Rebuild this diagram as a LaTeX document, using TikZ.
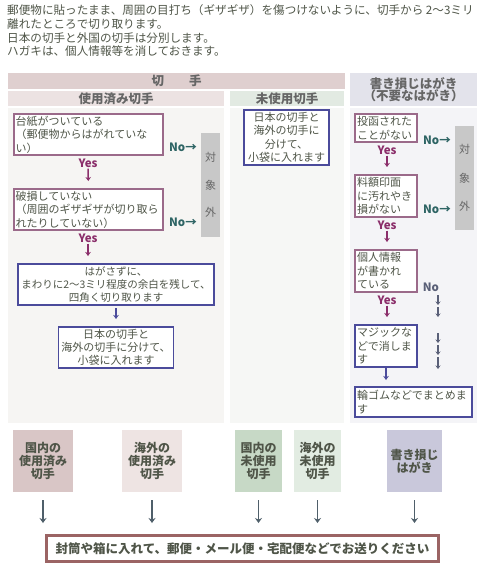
\documentclass[tikz,border=0pt]{standalone}
\usepackage{fontspec}
\setmainfont{Noto Sans CJK JP}
\usetikzlibrary{arrows.meta}
\definecolor{txt}{HTML}{4F5548}
\definecolor{hdtxt}{HTML}{666666}
\definecolor{hdTop}{HTML}{DFCFCF}
\definecolor{hdUsed}{HTML}{ECE2E2}
\definecolor{pnUsed}{HTML}{F6F5F3}
\definecolor{hdUnused}{HTML}{E2EAE2}
\definecolor{pnUnused}{HTML}{F6F7F5}
\definecolor{hdHaga}{HTML}{E3E3EB}
\definecolor{pnHaga}{HTML}{F4F4F7}
\definecolor{purp}{HTML}{9B6A8A}
\definecolor{blu}{HTML}{4B4B9B}
\definecolor{yescol}{HTML}{8B2F6B}
\definecolor{nocol}{HTML}{2E6464}
\definecolor{no2col}{HTML}{5A6078}
\definecolor{grayb}{HTML}{C8C8C8}
\definecolor{finb}{HTML}{9B6464}
\definecolor{bArrow}{HTML}{4F5F6A}
\definecolor{b1}{HTML}{D9C6C6}
\definecolor{b2}{HTML}{EEE4E3}
\definecolor{b3}{HTML}{C7D9C6}
\definecolor{b4}{HTML}{E2ECE2}
\definecolor{b5}{HTML}{C9C8DB}
\newcommand{\bodyf}{\fontsize{11}{13.5}\selectfont}
\tikzset{
  hdr/.style={inner sep=0pt, font=\fontsize{12.5}{12}\selectfont\bfseries, text=hdtxt, align=center},
  pbox/.style={draw=purp, line width=1.8pt, fill=white, inner xsep=2pt, inner ysep=1pt, align=left, font=\bodyf, text=txt},
  bbox/.style={draw=blu, line width=1.8pt, fill=white, inner xsep=2pt, inner ysep=1pt, align=center, font=\bodyf, text=txt},
  yeslbl/.style={font=\fontsize{11.5}{12}\selectfont\bfseries, text=yescol, inner sep=1pt},
  nolbl/.style={font=\fontsize{11.5}{12}\selectfont\bfseries, text=nocol, inner sep=0pt},
  grayside/.style={fill=grayb, inner sep=0pt, align=center, text=hdtxt},
  yarr/.style={draw=yescol, line width=1.5pt, -{Stealth[length=4pt,width=5.5pt]}},
  barr/.style={draw=blu, line width=1.5pt, -{Stealth[length=4pt,width=5.5pt]}},
  narr/.style={draw=no2col, line width=1.2pt, -{Stealth[length=3.5pt,width=5pt]}},
  cat/.style={inner sep=0pt, font=\fontsize{12}{13}\selectfont\bfseries, text=txt, align=center, minimum height=62pt},
  downarr/.style={draw=bArrow, line width=1.8pt, -{Stealth[length=5pt,width=7pt]}}
}
\begin{document}
\begin{tikzpicture}[x=1pt,y=-1pt]
\useasboundingbox (0,0) rectangle (480,570);
\fill[white] (0,0) rectangle (480,570);

% intro text
\node[anchor=north west, inner sep=0pt, align=left, text=txt, font=\fontsize{11.6}{13.7}\selectfont] (intro) at (7,4.5)
 {郵便物に貼ったまま、周囲の目打ち（ギザギザ）を傷つけないように、切手から 2～3ミリ\\
  離れたところで切り取ります。\\
  日本の切手と外国の切手は分別します。\\
  ハガキは、個人情報等を消しておきます。};

% panels
\fill[pnUsed] (8,108) rectangle (224,423);
\fill[pnUnused] (230,108) rectangle (344,423);
\fill[pnHaga] (350,108) rectangle (477,423);

% headers
\node[hdr, fill=hdTop, minimum width=337pt, minimum height=16pt] (hkitte) at (176.5,81) {切　　手};
\node[hdr, fill=hdUsed, minimum width=216pt, minimum height=15pt] (hused) at (116,98.5) {使用済み切手};
\node[hdr, fill=hdUnused, minimum width=114pt, minimum height=15pt] (hunused) at (287,98.5) {未使用切手};
\node[hdr, fill=hdHaga, minimum width=127pt, minimum height=33pt, font=\fontsize{12.5}{12.5}\selectfont\bfseries] (hhaga) at (413.5,89.5) {書き損じはがき\\（不要なはがき）};

% left column
\node[pbox, text width=145.5pt, minimum height=41.2pt] (lb1) at (88.5,134.5)
 {台紙がついている\\（郵便物からはがれていな\\い）};
\node[yeslbl] (ly1) at (88,163) {Yes};
\node[pbox, text width=145.5pt, minimum height=41.2pt] (lb2) at (88.5,209.5)
 {破損していない\\（周囲のギザギザが切り取ら\\れたりしていない）};
\node[yeslbl] (ly2) at (88,238) {Yes};
\node[bbox, text width=192pt, minimum height=41.2pt, font=\fontsize{10.5}{13}\selectfont] (lb3) at (116,284.5)
 {はがさずに、\\まわりに2～3ミリ程度の余白を残して、\\四角く切り取ります};
\node[bbox, text width=111pt, minimum height=41.2pt, font=\fontsize{11}{13}\selectfont] (lb4) at (116,347.5)
 {日本の切手と\\海外の切手に分けて、\\小袋に入れます};
\node[nolbl] (ln1) at (183,147) {No→};
\node[nolbl] (ln2) at (183,222) {No→};
\node[grayside, minimum width=19pt, minimum height=104pt, font=\fontsize{11}{27.5}\selectfont] (lgray) at (210.5,185) {対\\象\\外};

\draw[yarr, shorten >=7pt] (ly1.south) -- (lb2.north);
\draw[yarr, shorten >=7pt] (ly2.south) -- (ly2.south |- lb3.north);
\draw[barr, shorten <=2pt, shorten >=7pt] (lb3.south) -- (lb3.south |- lb4.north);

% middle column
\node[bbox, text width=81pt, minimum height=55.2pt, font=\fontsize{11}{13.5}\selectfont] (mb) at (286.5,137.5)
 {日本の切手と\\海外の切手に\\分けて、\\小袋に入れます};

% right column
\node[pbox, text width=58pt, minimum height=28.2pt] (ra) at (386,128) {投函された\\ことがない};
\node[yeslbl] (ry1) at (387,150) {Yes};
\node[pbox, text width=58pt, minimum height=42.2pt] (rb) at (386,196) {料額印面\\に汚れやき\\損がない};
\node[yeslbl] (ry2) at (387,225) {Yes};
\node[pbox, text width=58pt, minimum height=42.2pt] (rc) at (386,271) {個人情報\\が書かれ\\ている};
\node[yeslbl] (ry3) at (387,300) {Yes};
\node[bbox, align=left, text width=58pt, minimum height=42.2pt] (rd) at (386,346) {マジックな\\どで消しま\\す};
\node[bbox, align=left, text width=113pt, minimum height=30.2pt] (re) at (413.5,402) {輪ゴムなどでまとめま\\す};
\node[nolbl] (rn1) at (437,140) {No→};
\node[nolbl] (rn2) at (437,209) {No→};
\node[grayside, minimum width=19pt, minimum height=104pt, font=\fontsize{11}{28.5}\selectfont] (rgray) at (464.5,178) {対\\象\\外};
\node[nolbl, text=no2col] (rn3) at (431,287) {No};

\draw[yarr, shorten >=7pt] (ry1.south) -- (ry1.south |- rb.north);
\draw[yarr, shorten >=7pt] (ry2.south) -- (ry2.south |- rc.north);
\draw[yarr, shorten >=7pt] (ry3.south) -- (ry3.south |- rd.north);
\draw[barr, shorten >=6pt] (rd.south) -- (rd.south |- re.north);

\foreach \i/\a/\b in {1/295/305,2/307/317,3/333/343,4/345/355,5/357/369}{
  \coordinate (ns\i) at (438,\a);
  \coordinate (ne\i) at (438,\b);
  \draw[narr] (ns\i) -- (ne\i);
}

% bottom categories
\node[cat, fill=b1, minimum width=60pt] (c1) at (43,461) {国内の\\使用済み\\切手};
\node[cat, fill=b2, minimum width=60pt] (c2) at (152,461) {海外の\\使用済み\\切手};
\node[cat, fill=b3, minimum width=47pt] (c3) at (258.5,461) {国内の\\未使用\\切手};
\node[cat, fill=b4, minimum width=47pt] (c4) at (317.5,461) {海外の\\未使用\\切手};
\node[cat, fill=b5, minimum width=55pt] (c5) at (414.5,461) {書き損じ\\はがき};

\node[draw=finb, line width=3pt, fill=white, minimum width=392pt, minimum height=26pt, inner sep=0pt,
      font=\fontsize{12.5}{13}\selectfont\bfseries, text=txt] (fin) at (242.5,548.5)
 {封筒や箱に入れて、郵便・メール便・宅配便などでお送りください};

\foreach \c in {c1,c2,c3,c4,c5}{
  \draw[downarr, shorten <=8pt, shorten >=11pt] (\c.south) -- (\c.south |- fin.north);
}
\end{tikzpicture}
\end{document}
